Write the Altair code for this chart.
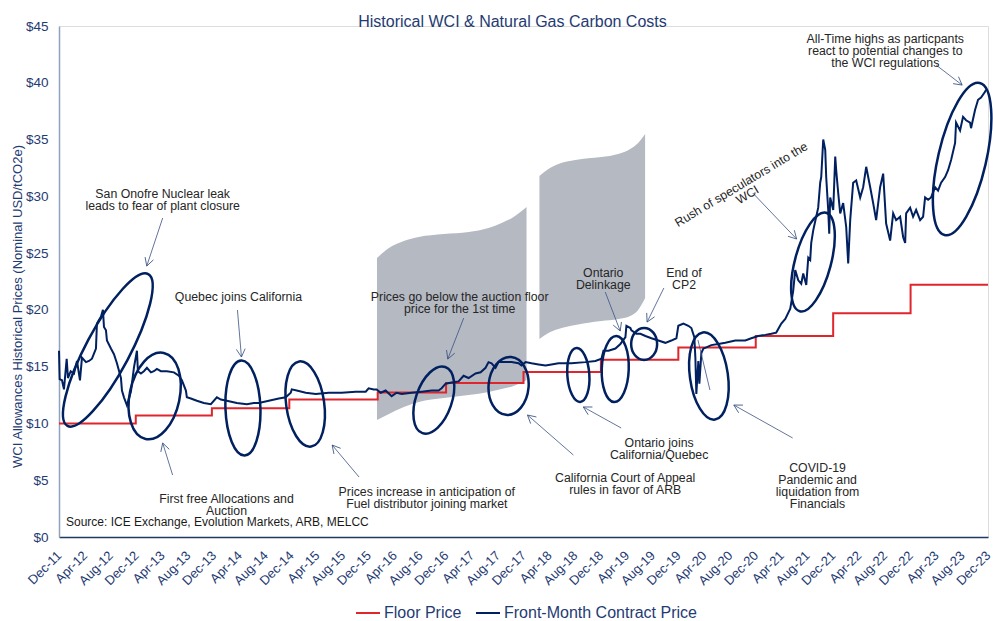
import json, math
import altair as alt
import pandas as pd

# ---------------- data (month offset from Dec-2011, USD) ----------------
TICK_LABELS = ["Dec-11","Apr-12","Aug-12","Dec-12","Apr-13","Aug-13","Dec-13","Apr-14","Aug-14",
               "Dec-14","Apr-15","Aug-15","Dec-15","Apr-16","Aug-16","Dec-16","Apr-17","Aug-17",
               "Dec-17","Apr-18","Aug-18","Dec-18","Apr-19","Aug-19","Dec-19","Apr-20","Aug-20",
               "Dec-20","Apr-21","Aug-21","Dec-21","Apr-22","Aug-22","Dec-22","Apr-23","Aug-23","Dec-23"]
Y_TICKS = [0, 5, 10, 15, 20, 25, 30, 35, 40, 45]

FLOOR_MONTH = [0, 11.9, 23.7, 35.7, 49.4, 60.0, 72.0, 84.0, 96.0, 108.0, 120.0, 132.0, 144.0]
FLOOR_USD = [10.00, 10.71, 11.34, 12.10, 12.73, 13.57, 14.53, 15.62, 16.68, 17.71, 19.70, 22.21, 22.21]

PRICE_MONTH = [0.0,0.1,0.46,0.77,1.19,1.39,1.81,2.32,2.79,3.25,3.56,4.18,4.65,5.11,5.73,5.88,6.19,6.5,
    6.81,6.97,7.28,7.43,8.05,8.52,8.98,9.6,9.76,10.07,10.53,11.15,11.61,12.08,12.23,12.7,13.16,13.63,
    14.25,14.71,15.17,15.79,16.72,17.81,18.58,19.05,19.67,19.82,20.44,21.37,22.45,23.54,24.47,25.09,
    26.01,27.56,29.11,30.2,30.97,32.52,34.07,35.15,35.92,36.08,36.85,38.25,39.8,41.81,43.82,45.99,
    47.54,48.0,48.78,49.24,49.86,50.63,51.56,52.34,53.11,54.66,56.21,57.76,58.84,59.31,59.93,60.85,
    61.94,62.71,63.49,64.57,65.35,66.12,66.58,67.05,67.67,68.13,69.22,70.15,71.23,71.69,72.31,73.24,
    74.33,75.41,76.34,77.42,78.51,79.44,81.6,83.15,84.08,84.39,85.17,86.25,87.02,87.8,87.95,88.57,
    88.73,89.5,90.12,90.9,91.83,92.91,93.99,94.92,95.7,96.0,96.78,97.55,98.02,98.48,98.64,98.79,99.1,
    99.26,99.57,99.88,100.34,101.11,102.2,103.28,104.83,106.38,107.31,108.39,109.48,110.41,111.18,
    111.96,112.58,113.35,113.81,114.12,114.59,115.05,115.36,115.83,116.14,116.44,116.6,116.91,117.37,
    117.68,117.99,118.15,118.46,118.77,118.92,119.23,119.39,119.54,120.01,120.32,120.47,120.78,121.09,
    121.55,122.02,122.33,122.64,123.1,123.57,124.19,124.65,125.12,125.74,126.2,126.66,127.28,127.75,
    128.21,128.83,129.3,129.76,130.38,130.85,131.16,131.31,131.93,132.39,132.86,133.48,133.94,134.25,
    134.72,135.18,135.8,136.26,136.73,137.35,137.81,138.28,138.9,139.05,139.67,140.13,140.6,141.22,
    141.37,141.99,142.46,142.92,143.54,143.7]
PRICE_USD = [16.4,13.9,13.8,13.0,15.7,14.0,14.6,14.4,15.5,13.8,15.8,15.4,15.5,15.7,16.6,18.8,19.1,19.4,
    20.0,18.5,18.2,17.3,16.6,16.1,15.3,14.0,12.9,12.3,11.6,12.8,14.9,16.4,14.6,14.4,14.6,14.9,
    14.5,14.6,14.8,14.6,14.6,14.5,14.2,13.8,12.9,12.3,12.2,12.0,11.8,11.7,12.3,12.1,
    12.0,11.8,11.7,11.8,11.8,12.0,12.2,12.3,12.7,13.0,12.9,12.7,12.6,12.7,12.7,12.8,
    12.8,13.1,13.0,13.0,12.7,12.9,12.4,12.7,12.6,12.7,12.8,12.9,12.9,13.1,13.5,13.6,
    13.7,14.2,14.0,14.4,14.5,14.9,15.4,15.3,14.9,15.4,15.4,15.4,15.3,15.1,15.4,15.3,
    15.2,15.1,15.2,15.3,15.3,15.3,15.4,15.5,15.7,16.4,16.4,16.6,17.0,17.6,18.6,18.4,
    18.2,17.9,17.9,17.7,17.5,17.3,17.1,17.3,17.5,18.6,18.8,18.6,18.4,17.6,15.8,12.6,15.5,
    13.5,16.2,16.6,16.7,16.9,17.0,17.1,17.3,17.3,17.5,17.7,17.8,17.9,18.0,
    18.8,19.2,20.1,21.7,23.5,22.6,22.3,23.2,22.2,24.6,24.4,25.9,27.0,28.2,
    29.0,31.2,31.7,35.0,34.1,31.7,28.8,26.7,29.9,28.8,33.5,32.3,30.3,28.5,
    29.4,27.3,24.1,27.9,31.2,31.4,29.9,30.8,32.6,30.8,29.4,27.9,30.8,32.0,
    27.6,26.1,28.5,27.9,28.2,26.4,25.9,28.5,29.0,28.2,28.8,27.9,28.2,29.9,
    29.7,29.9,30.8,30.5,31.2,31.7,32.3,33.2,34.7,36.5,35.8,37.0,36.7,36.5,
    36.0,37.6,38.5,38.7,39.2,39.4]

SERIES = ["Floor Price", "Front-Month Contract Price"]
TITLE = "Historical WCI & Natural Gas Carbon Costs"
Y_TITLE = "WCI Allowances Historical Prices (Nominal USD/tCO2e)"
SOURCE = "Source: ICE Exchange,  Evolution  Markets,  ARB, MELCC"

# grey decorative "flags" (month, top USD, bottom USD)
FLAG1_MONTH = [49.29, 51.14, 53.45, 55.77, 59.64, 63.50, 66.59, 68.60, 70.46, 72.47]
FLAG1_TOP = [24.57, 25.45, 26.07, 26.42, 26.68, 26.86, 27.21, 27.65, 28.18, 29.06]
FLAG1_BOT = [10.30, 10.83, 11.45, 11.89, 12.24, 12.50, 12.77, 13.03, 13.30, 13.83]
FLAG2_MONTH = [74.47, 75.86, 77.41, 80.04, 84.05, 86.68, 88.54, 89.77, 90.85]
FLAG2_TOP = [31.79, 32.41, 32.85, 33.20, 33.46, 33.73, 34.17, 34.70, 35.49]
FLAG2_BOT = [17.44, 17.96, 18.32, 18.67, 19.02, 19.20, 19.46, 19.99, 21.05]

# annotation texts: month, usd, lines, angle
NOTES = [
    (16.07, 30.20, ["San Onofre Nuclear leak", "leads to fear of plant closure"], 0),
    (27.81, 21.13, ["Quebec joins California"], 0),
    (25.96, 3.39, ["First free Allocations  and", "Auction"], 0),
    (57.01, 3.92, ["Prices increase in anticipation of", "Fuel distributor joining market"], 0),
    (62.11, 21.13, ["Prices go below the auction floor", "price for the 1st time"], 0),
    (87.76, 5.20, ["California Court of Appeal", "rules in favor of ARB"], 0),
    (93.02, 8.32, ["Ontario joins", "California/Quebec"], 0),
    (84.36, 23.25, ["Ontario", "Delinkage"], 0),
    (96.88, 23.29, ["End of", "CP2"], 0),
    (105.76, 31.04, ["Rush of speculators into the", "WCI"], 329),
    (128.08, 43.85, ["All-Time highs as particpants", "react to potential changes to", "the WCI regulations"], 0),
    (117.58, 6.12, ["COVID-19", "Pandemic and", "liquidation from", "Financials"], 0),
]
# ellipses: month, usd (centre)
ELL_MONTH = [7.57, 14.83, 28.51, 38.16, 58.10, 69.69, 80.50, 86.22, 90.70, 100.74, 116.87, 139.99]
ELL_USD = [16.47, 12.42, 11.36, 11.71, 12.06, 13.30, 14.27, 14.79, 17.00, 14.18, 24.22, 33.29]
# arrows: start month, start usd, end month, end usd
ARROWS = [
    (16.07, 28.09, 13.60, 23.86), (27.66, 19.99, 28.28, 15.85), (17.61, 5.46, 16.07, 8.28),
    (46.51, 5.28, 42.34, 8.10), (62.73, 19.28, 60.26, 15.67), (79.73, 7.22, 72.62, 10.74),
    (87.14, 9.60, 81.27, 11.45), (84.67, 21.57, 86.99, 18.14), (93.76, 21.93, 91.16, 18.93),
    (113.72, 8.72, 104.60, 11.62), (107.54, 30.29, 114.34, 26.24), (135.97, 41.56, 139.99, 39.80),
]
PLAIN_LINES = [(99.04, 17.35, 100.90, 12.94)]

# ---------------- styles ----------------
W, H = 929, 511
PXX, PXY = W / 144.0, H / 45.0
NAVY = "#002060"
RED = "#E0262C"
TXT_NAVY = "#1F3B73"
NOTE_COL = "#262626"
ARROW_COL = "#3A5283"
GREY = "#B5B9C2"
FONT = "Liberation Sans"
# ellipse semi-axes in px (rx, ry) and clockwise tilt
ELL_STYLE = [(22, 86, 28), (25, 44, 12), (17.5, 47.5, 358), (19, 43, 352), (18, 35, 19), (20, 29, 5),
             (11, 27, 356), (13.5, 33, 2), (13, 16, 0), (19, 44, 352), (18, 51, 15), (24, 78, 13)]


def ellipse_path(r):
    k = 0.5523
    return (f"M{r:.3f},0 C{r:.3f},{k:.3f} {k*r:.3f},1 0,1 C{-k*r:.3f},1 {-r:.3f},{k:.3f} {-r:.3f},0 "
            f"C{-r:.3f},{-k:.3f} {-k*r:.3f},-1 0,-1 C{k*r:.3f},-1 {r:.3f},{-k:.3f} {r:.3f},0 Z")


xscale = alt.Scale(domain=[0, 144], nice=False, zero=False)
yscale = alt.Scale(domain=[0, 45], nice=False)
label_expr = json.dumps(TICK_LABELS) + "[round(datum.value/4)]"

xaxis = alt.Axis(values=[4 * i for i in range(len(TICK_LABELS))], labelExpr=label_expr, title=None,
                 labelAngle=-45, labelAlign="right", labelBaseline="middle", labelPadding=16,
                 labelFontSize=13, labelColor=TXT_NAVY, labelFont=FONT, ticks=False, grid=False,
                 domainColor="#1F3864", domainWidth=1.5, labelOverlap=False, labelBound=False,
                 labelFlush=False, labelLimit=0)
yaxis = alt.Axis(values=Y_TICKS, labelExpr="'$' + datum.value", title=Y_TITLE, titleFontSize=13,
                 titleFontWeight="normal", titleColor=TXT_NAVY, titleFont=FONT, titleX=-42, titleY=280,
                 titleAngle=270, titleAlign="center", titleBaseline="middle",
                 labelFontSize=13.5, labelColor=TXT_NAVY, labelFont=FONT, labelPadding=11, ticks=False,
                 grid=False, domainColor="#8EA2BF", domainWidth=1.5, labelOverlap=False)


def X(f):
    return alt.X(f, scale=xscale, axis=xaxis)


def Y(f):
    return alt.Y(f, scale=yscale, axis=yaxis)


color = alt.Color("series:N", scale=alt.Scale(domain=SERIES, range=[RED, NAVY]),
                  legend=alt.Legend(orient="none", legendX=296, legendY=574, direction="horizontal",
                                    title=None, symbolType="stroke", symbolSize=576, symbolStrokeWidth=2,
                                    labelFontSize=16, labelFont=FONT, labelColor=TXT_NAVY, labelOffset=3,
                                    columnPadding=10, padding=0, labelLimit=0))

# flags
flag_df = pd.DataFrame({
    "m": FLAG1_MONTH + FLAG2_MONTH,
    "top": FLAG1_TOP + FLAG2_TOP,
    "bot": FLAG1_BOT + FLAG2_BOT,
    "flag": ["a"] * len(FLAG1_MONTH) + ["b"] * len(FLAG2_MONTH),
})
flags = alt.Chart(flag_df).mark_area(color=GREY, opacity=1, interpolate="monotone").encode(
    x=X("m:Q"), y=Y("top:Q"), y2="bot:Q", detail="flag:N")

floor_df = pd.DataFrame({"m": FLOOR_MONTH, "usd": FLOOR_USD, "series": SERIES[0]})
floor = alt.Chart(floor_df).mark_line(interpolate="step-after", strokeWidth=2).encode(
    x=X("m:Q"), y=Y("usd:Q"), color=color)

price_df = pd.DataFrame({"m": PRICE_MONTH, "usd": PRICE_USD, "series": SERIES[1]})
price = alt.Chart(price_df).mark_line(strokeWidth=2).encode(
    x=X("m:Q"), y=Y("usd:Q"), color=color)

ell_df = pd.DataFrame({
    "m": ELL_MONTH, "usd": ELL_USD,
    "shape": [ellipse_path(rx / ry) for rx, ry, _ in ELL_STYLE],
    "size": [(2 * ry) ** 2 for _, ry, _ in ELL_STYLE],
    "angle": [a for _, _, a in ELL_STYLE],
})
ellipses = alt.Chart(ell_df).mark_point(filled=False, strokeWidth=2.5, color=NAVY, opacity=1).encode(
    x=X("m:Q"), y=Y("usd:Q"),
    shape=alt.Shape("shape:N", scale=None), size=alt.Size("size:Q", scale=None),
    angle=alt.Angle("angle:Q", scale=None))

arr_df = pd.DataFrame(ARROWS + PLAIN_LINES, columns=["m0", "p0", "m1", "p1"])
arrow_lines = alt.Chart(arr_df).mark_rule(color=ARROW_COL, strokeWidth=0.8).encode(
    x=X("m0:Q"), y=Y("p0:Q"), x2="m1:Q", y2="p1:Q")

head_df = pd.DataFrame(ARROWS, columns=["m0", "p0", "m1", "p1"])
head_df["angle"] = [math.degrees(math.atan2(-(p1 - p0) * PXY, (m1 - m0) * PXX)) % 360
                    for m0, p0, m1, p1 in ARROWS]
heads = alt.Chart(head_df).mark_point(filled=False, strokeWidth=0.8, color=ARROW_COL, opacity=1,
                                      shape="M-1,-0.55 L0,0 L-1,0.55", size=256).encode(
    x=X("m1:Q"), y=Y("p1:Q"), angle=alt.Angle("angle:Q", scale=None))

note_layers = []
for m, p, lines, ang in NOTES:
    d = pd.DataFrame({"m": [m], "usd": [p], "t": [lines]})
    note_layers.append(alt.Chart(d).mark_text(font=FONT, fontSize=12.3, lineHeight=12, color=NOTE_COL,
                                              align="center", baseline="middle", angle=ang).encode(
        x=X("m:Q"), y=Y("usd:Q"), text="t"))

src = alt.Chart(pd.DataFrame({"m": [1.08], "usd": [1.32], "t": [SOURCE]})).mark_text(
    font=FONT, fontSize=12, color="#1A1A1A", align="left", baseline="middle").encode(
    x=X("m:Q"), y=Y("usd:Q"), text="t")

title = alt.Chart(pd.DataFrame({"t": [TITLE]})).mark_text(
    font=FONT, fontSize=16, color=TXT_NAVY, align="center", baseline="alphabetic").encode(
    x=alt.value(453.5), y=alt.value(1), text="t")

chart = alt.layer(flags, floor, price, ellipses, arrow_lines, heads, *note_layers, src, title).properties(
    width=W, height=H,
    padding={"left": 59, "top": 26, "right": 5, "bottom": 84},
    autosize=alt.AutoSizeParams(type="none"),
).configure_view(stroke=None).configure(font=FONT)

chart.save("out.html", embed_options={"renderer": "svg", "actions": False})
